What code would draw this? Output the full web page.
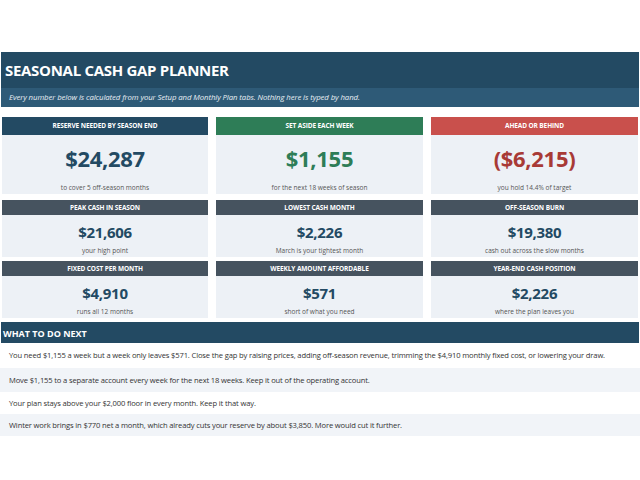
<!DOCTYPE html>
<html><head><meta charset="utf-8">
<script src="https://cdn.jsdelivr.net/npm/chart.js@4"></script>
<style>
body{margin:0;width:640px;height:480px;background:#fff;font-family:"Open Sans",sans-serif;position:relative;overflow:hidden}
.abs{position:absolute}
.card .h{position:absolute;left:0;right:0;top:0;color:#fff;font-weight:700;font-size:6.5px;text-align:center;letter-spacing:-0.1px}
.card .b{position:absolute;left:0;right:0;bottom:0;background:#edf1f6;text-align:center}
.card .v{position:absolute;left:0;right:0;font-weight:700;letter-spacing:-0.3px}
.card .s{position:absolute;left:0;right:0;font-size:6.5px;color:#555}
.line{position:absolute;left:0;width:640px;font-size:7.6px;color:#333;padding-left:9px;box-sizing:border-box;white-space:nowrap;letter-spacing:-0.15px}
</style></head><body>
<div class="abs" style="left:1px;top:52px;width:638px;height:36px;background:#234a63"></div>
<div class="abs" style="left:5px;top:60px;color:#fff;font-weight:700;font-size:15px;letter-spacing:-0.3px">SEASONAL CASH GAP PLANNER</div>
<div class="abs" style="left:1px;top:88px;width:638px;height:19px;background:#2e5a77"></div>
<div class="abs" style="left:9px;top:92px;color:#e8eef4;font-style:italic;font-size:7.8px;letter-spacing:-0.1px">Every number below is calculated from your Setup and Monthly Plan tabs. Nothing here is typed by hand.</div>
<div id="cards"></div>
<div class="abs" style="left:1px;top:322px;width:638px;height:21px;background:#234a63"></div>
<div class="abs" style="left:3px;top:327px;color:#fff;font-weight:700;font-size:9px">WHAT TO DO NEXT</div>
<div id="lines"></div>
<script>
const titles=["RESERVE NEEDED BY SEASON END","SET ASIDE EACH WEEK","AHEAD OR BEHIND","PEAK CASH IN SEASON","LOWEST CASH MONTH","OFF-SEASON BURN","FIXED COST PER MONTH","WEEKLY AMOUNT AFFORDABLE","YEAR-END CASH POSITION"];
const values=["$24,287","$1,155","($6,215)","$21,606","$2,226","$19,380","$4,910","$571","$2,226"];
const notes=["to cover 5 off-season months","for the next 18 weeks of season","you hold 14.4% of target","your high point","March is your tightest month","cash out across the slow months","runs all 12 months","short of what you need","where the plan leaves you"];
const actions=["You need $1,155 a week but a week only leaves $571. Close the gap by raising prices, adding off-season revenue, trimming the $4,910 monthly fixed cost, or lowering your draw.","Move $1,155 to a separate account every week for the next 18 weeks. Keep it out of the operating account.","Your plan stays above your $2,000 floor in every month. Keep it that way.","Winter work brings in $770 net a month, which already cuts your reserve by about $3,850. More would cut it further."];
const headCol=["#234a63","#2e7d57","#c9504c","#46535f","#46535f","#46535f","#46535f","#46535f","#46535f"];
const valCol=["#234a63","#2e7d57","#a83a36","#234a63","#234a63","#234a63","#234a63","#234a63","#234a63"];
const xs=[2,216,431],ws=[206,207,207];
const rows=[{t:117,hh:18,bh:59,vs:22,vt:26,st:62},{t:200,hh:15,bh:42,vs:15,vt:19,st:40},{t:261,hh:15,bh:42,vs:15,vt:19,st:40}];
const c=document.getElementById('cards');
titles.forEach((t,i)=>{const r=rows[Math.floor(i/3)],col=i%3;
 const d=document.createElement('div');d.className='card abs';
 d.style.cssText=`left:${xs[col]}px;top:${r.t}px;width:${ws[col]}px;height:${r.hh+r.bh}px`;
 d.innerHTML=`<div class="h" style="height:${r.hh}px;line-height:${r.hh}px;background:${headCol[i]}">${t}</div>
 <div class="b" style="height:${r.bh}px"><div class="v" style="top:${r.vt-r.vs/1.6}px;font-size:${r.vs}px;color:${valCol[i]};line-height:1">${values[i]}</div>
 <div class="s" style="top:${r.st-r.vs/1.6}px">${notes[i]}</div></div>`;
 c.appendChild(d);});
const L=document.getElementById('lines');const tops=[344,368,392,414],hs=[22,24,22,22];
actions.forEach((a,i)=>{const d=document.createElement('div');d.className='line';
 d.style.cssText+=`top:${tops[i]}px;height:${hs[i]}px;line-height:${hs[i]}px;background:${i%2?'#f1f4f8':'#fff'}`;
 d.textContent=a;L.appendChild(d);});
</script>
</body></html>
